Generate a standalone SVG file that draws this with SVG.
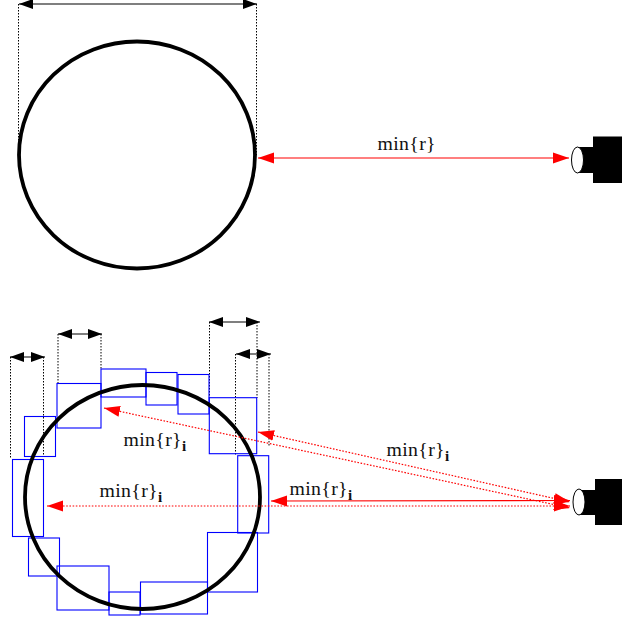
<svg xmlns="http://www.w3.org/2000/svg" width="622" height="621" viewBox="0 0 622 621">
<style>
.circle{fill:none;stroke:#000;stroke-width:3.8}
.box{fill:none;stroke:#0000ff;stroke-width:1.1}
.guide{fill:none;stroke:#000;stroke-width:1;stroke-dasharray:1.5 1.5}
.dim{fill:none;stroke:#000;stroke-width:1.2;marker-start:url(#bk);marker-end:url(#bk)}
.red{fill:none;stroke:#ff0000;stroke-width:1.2;marker-start:url(#rd);marker-end:url(#rd)}
.reddot{fill:none;stroke:#ff0000;stroke-width:1.2;stroke-dasharray:1.6 1.6;marker-start:url(#rd);marker-end:url(#rd)}
.lbl{font-family:"Liberation Serif","Times New Roman",serif;font-size:19.800px;letter-spacing:.35px;fill:#111}
.sub{font-family:"Liberation Serif","Times New Roman",serif;font-size:15px;font-weight:bold;fill:#111}
.lens{fill:#fff;stroke:#000;stroke-width:1}
</style>
<defs>
<marker id="bk" markerUnits="userSpaceOnUse" markerWidth="15" markerHeight="11" viewBox="0 0 15 11" refX="14" refY="5.5" orient="auto-start-reverse"><path d="M0 0.5L14 5.5L0 10.5z" fill="#000"/></marker>
<marker id="rd" markerUnits="userSpaceOnUse" markerWidth="17" markerHeight="13" viewBox="0 0 17 13" refX="16" refY="6" orient="auto-start-reverse"><path d="M0 0.5L16 6L0 11.5z" fill="#ff0000"/></marker>
</defs>
<g id="guides">
<path class="guide" d="M18.500 4V155M256.500 4V155M10.500 357V458M43.500 357V455M58 334V383M101 334V369M209.500 322V398M257 322V398M235.500 354V456M269 354V447"/>
</g>
<g id="boxes">
<rect class="box" x="57" y="383.500" width="44" height="44.500"/>
<rect class="box" x="101" y="369" width="45" height="28"/>
<rect class="box" x="146" y="372.500" width="31" height="32.500"/>
<rect class="box" x="178" y="374.500" width="31" height="39.500"/>
<rect class="box" x="209.300" y="397.700" width="47.400" height="56"/>
<rect class="box" x="24.500" y="416.500" width="31" height="40"/>
<rect class="box" x="12.500" y="459.500" width="31" height="77"/>
<rect class="box" x="237.700" y="455.700" width="31" height="77.300"/>
<rect class="box" x="28.500" y="538" width="31" height="38"/>
<rect class="box" x="57" y="566" width="52" height="44"/>
<rect class="box" x="109" y="592" width="31" height="23"/>
<rect class="box" x="140.500" y="582" width="67" height="32"/>
<rect class="box" x="207.500" y="532.500" width="50" height="59.500"/>
</g>
<g id="circle-top"><ellipse class="circle" cx="137" cy="155" rx="118" ry="113.500"/></g>
<g id="circle-bottom"><ellipse class="circle" cx="142.500" cy="497" rx="117.500" ry="112"/></g>
<g id="connectors">
<line class="dim" x1="19" y1="4" x2="257" y2="4"/>
<line class="dim" x1="58" y1="334" x2="102" y2="334"/>
<line class="dim" x1="10" y1="357" x2="45" y2="357"/>
<line class="dim" x1="209" y1="322" x2="260" y2="322"/>
<line class="dim" x1="236" y1="354" x2="271" y2="354"/>
<line class="red" x1="258" y1="158" x2="569" y2="158"/>
<line class="red" x1="271" y1="501" x2="570" y2="500.500"/>
<line class="reddot" x1="47" y1="506" x2="570" y2="506"/>
<line class="reddot" x1="258" y1="432" x2="570" y2="502"/>
<line class="reddot" x1="104" y1="408" x2="570" y2="508"/>
</g>
<g id="camera-top">
<path d="M577 147H593V136.500H622V183H593V173H577z" fill="#000"/>
<ellipse class="lens" cx="577.500" cy="160" rx="6" ry="13"/>
</g>
<g id="camera-bottom">
<path d="M579 490H595V479H622V525H595V515H579z" fill="#000"/>
<ellipse class="lens" cx="579" cy="502" rx="6" ry="13"/>
</g>
<g id="labels">
<text class="lbl" x="377.500" y="150">min{r}</text>
<text class="lbl" x="386.500" y="456">min{r}<tspan class="sub" dy="5">i</tspan></text>
<text class="lbl" x="123.500" y="446">min{r}<tspan class="sub" dy="5">i</tspan></text>
<text class="lbl" x="99.500" y="497">min{r}<tspan class="sub" dy="5">i</tspan></text>
<text class="lbl" x="289.500" y="495">min{r}<tspan class="sub" dy="5">i</tspan></text>
</g>
</svg>
